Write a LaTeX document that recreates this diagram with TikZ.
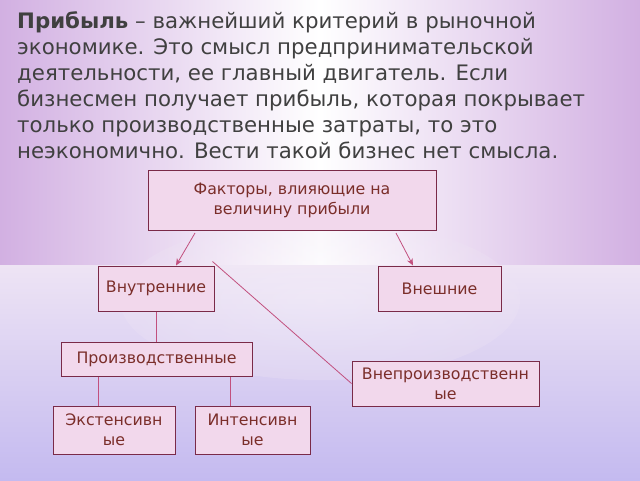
\documentclass[tikz,border=0pt]{standalone}
\usepackage{fontspec}
\setmainfont{DejaVu Sans}
\usetikzlibrary{positioning,arrows.meta}
\definecolor{boxfill}{HTML}{F2D8EC}
\definecolor{boxline}{HTML}{7A2A48}
\definecolor{boxtext}{HTML}{7B2E2A}
\definecolor{linkc}{HTML}{C2507E}
\definecolor{bodytext}{HTML}{404040}
\definecolor{bandside}{HTML}{D2B0E2}
\definecolor{lowtop}{HTML}{EEE4F4}
\definecolor{lowbottom}{HTML}{C4BAF0}
\begin{document}
\begin{tikzpicture}[x=1pt,y=-1pt,
  box/.style={draw=boxline, line width=1pt, fill=boxfill, text=boxtext, font=\fontsize{15.8}{20}\selectfont, align=center, inner sep=2pt},
  link/.style={draw=linkc, line width=0.8pt},
  arr/.style={-{Stealth[length=7pt,width=6pt]}}]
  % background
  \useasboundingbox (0,0) rectangle (640,480);
  \shade[left color=bandside, right color=bandside, middle color=white] (0,0) rectangle (640,265);
  \shade[top color=lowtop, bottom color=lowbottom] (0,265) rectangle (640,480);
  \shade[inner color=white, outer color=lowtop, opacity=0.3] (320,300) ellipse (200 and 80);
  % text
  \node[anchor=north west, text=bodytext, align=left, font=\fontsize{21.3}{26}\selectfont, inner sep=0pt] (intro) at (17,11)
    {\textbf{Прибыль} – важнейший критерий в рыночной\\
     экономике. Это смысл предпринимательской\\
     деятельности, ее главный двигатель. Если\\
     бизнесмен получает прибыль, которая покрывает\\
     только производственные затраты, то это\\
     неэкономично. Вести такой бизнес нет смысла.};
  % boxes
  \node[box, minimum width=288, minimum height=60] (factors) at (292,200) {Факторы, влияющие на\\величину прибыли};
  \node[box, minimum width=116, minimum height=45] (inner) at (156,288.5) {Внутренние};
  \node[box, minimum width=123, minimum height=45] (outer) at (439.5,288.5) {Внешние};
  \node[box, minimum width=191, minimum height=34] (prod) at (156.5,359) {Производственные};
  \node[box, minimum width=187, minimum height=45, text width=183] (nonprod) at (445.5,383.5) {Внепроизводственн\\ые};
  \node[box, minimum width=122, minimum height=48, text width=118] (ext) at (114,430) {Экстенсивн\\ые};
  \node[box, minimum width=115, minimum height=48, text width=111] (int) at (252.5,430) {Интенсивн\\ые};
  % connectors
  \coordinate (a1) at (195,233);
  \coordinate (a2) at (396,233);
  \draw[link, arr] (a1) -- (inner.north -| 176,0);
  \draw[link, arr] (a2) -- (outer.north -| 413,0);
  \draw[link] (nonprod.west) -- ([xshift=-2pt,yshift=4pt]inner.north east);
  \draw[link] (inner.south) -- (prod.north -| inner.south);
  \draw[link] (prod.south -| ext.north) ++(-16,0) -- ([xshift=-16pt]ext.north);
  \draw[link] (prod.south -| int.north) ++(-22,0) -- ([xshift=-22pt]int.north);
\end{tikzpicture}
\end{document}
